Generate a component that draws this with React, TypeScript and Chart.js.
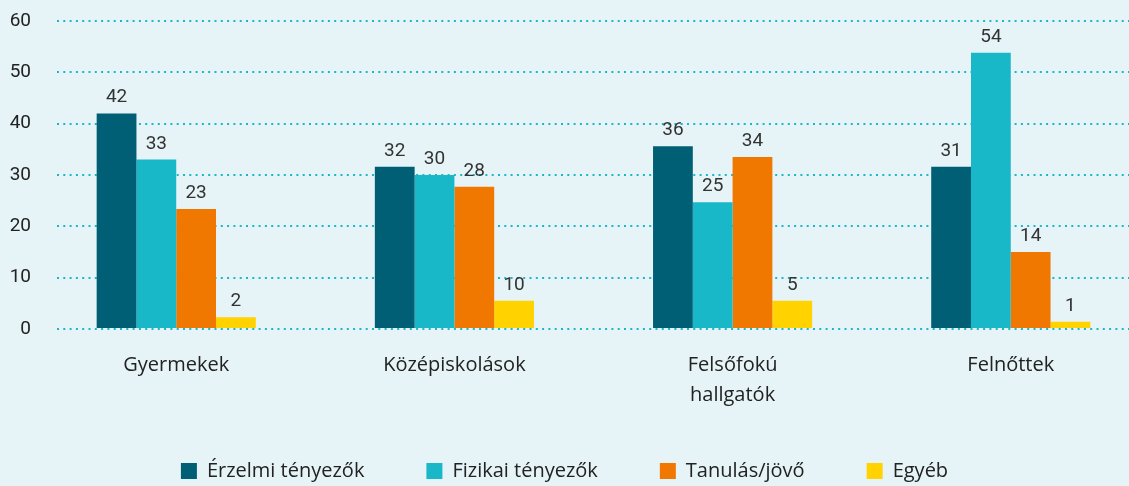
import React, { useEffect, useRef } from "react";
import { Chart, registerables } from "chart.js";

Chart.register(...registerables);

const categories: (string | string[])[] = ["Gyermekek", "Középiskolások", ["Felsőfokú", "hallgatók"], "Felnőttek"];
const seriesNames = ["Érzelmi tényezők", "Fizikai tényezők", "Tanulás/jövő", "Egyéb"];
// bar heights as drawn
const erzelmi = [42, 31.6, 35.6, 31.6];
const fizikai = [33, 30, 24.7, 53.8];
const tanulas = [23.4, 27.7, 33.5, 15];
const egyeb = [2.3, 5.5, 5.5, 1.4];
// value labels as printed
const erzelmiLabels = ["42", "32", "36", "31"];
const fizikaiLabels = ["33", "30", "25", "54"];
const tanulasLabels = ["23", "28", "34", "14"];
const egyebLabels = ["2", "10", "5", "1"];
const yTicks = [0, 10, 20, 30, 40, 50, 60];

const colors = ["#005f75", "#19b8c8", "#f07800", "#ffd200"];
const NUMFONT = "Roboto, 'Noto Sans', sans-serif";
const TEXTFONT = "'Open Sans', Roboto, sans-serif";

const valueLabelPlugin = {
  id: "valueLabels",
  afterLayout(chart: any) {
    // let the two-line category label overflow its box without clipping
    chart.scales.x.bottom += 24;
  },
  afterDatasetsDraw(chart: any) {
    const ctx = chart.ctx;
    ctx.save();
    ctx.fillStyle = "#333333";
    ctx.font = `19px ${NUMFONT}`;
    ctx.textAlign = "center";
    ctx.textBaseline = "alphabetic";
    chart.data.datasets.forEach((ds: any, di: number) => {
      const meta = chart.getDatasetMeta(di);
      meta.data.forEach((bar: any, i: number) => {
        ctx.fillText(ds.valueLabels[i], bar.x, bar.y - 11);
      });
    });
    ctx.restore();
  },
};

export default function App() {
  const ref = useRef<HTMLCanvasElement>(null);
  useEffect(() => {
    const seriesValues = [erzelmi, fizikai, tanulas, egyeb];
    const seriesLabels = [erzelmiLabels, fizikaiLabels, tanulasLabels, egyebLabels];
    const chart = new Chart(ref.current!, {
      type: "bar",
      data: {
        datasets: seriesNames.map((name, si) => ({
          label: name,
          data: seriesValues[si].map((v, i) => ({ x: i, y: v })),
          valueLabels: seriesLabels[si],
          backgroundColor: colors[si],
          borderWidth: 0,
          categoryPercentage: 0.572,
          barPercentage: 1,
        })) as any,
      },
      options: {
        animation: false,
        responsive: false,
        maintainAspectRatio: false,
        layout: { padding: { left: 0, right: 0, top: 0, bottom: 0 } },
        plugins: {
          tooltip: { enabled: false },
          legend: {
            position: "bottom",
            maxHeight: 87,
            labels: {
              boxWidth: 16,
              boxHeight: 16,
              padding: 62,
              color: "#222222",
              font: { family: TEXTFONT, size: 20 },
            },
          },
        },
        scales: {
          x: {
            type: "linear",
            offset: false,
            min: -0.4286,
            max: 3.425,
            grid: { display: false, offset: false },
            border: { display: false },
            afterBuildTicks: (axis: any) => {
              axis.ticks = categories.map((_, i) => ({ value: i }));
            },
            ticks: {
              autoSkip: false,
              maxRotation: 0,
              padding: 13,
              color: "#222222",
              font: { family: TEXTFONT, size: 20, lineHeight: 1.5 },
              callback: (v: any) => categories[v as number],
            },
            afterFit: (axis: any) => {
              axis.height = 70;
            },
          },
          y: {
            min: 0,
            max: 60,
            afterBuildTicks: (axis: any) => {
              axis.ticks = yTicks.map((v) => ({ value: v }));
            },
            border: { display: false, dash: [2, 4.3] },
            grid: {
              color: "#19b8c8",
              lineWidth: 2,
              drawTicks: false,
            },
            ticks: {
              padding: 26,
              color: "#222222",
              font: { family: NUMFONT, size: 19 },
            },
            afterFit: (axis: any) => {
              axis.width = 57;
              axis.paddingTop = 21;
              axis.paddingBottom = 11;
            },
          },
        },
      } as any,
      plugins: [valueLabelPlugin],
    });
    return () => chart.destroy();
  }, []);
  return (
    <div style={{ position: "absolute", left: 0, top: 0, width: 1129, height: 486, background: "#e6f4f8" }}>
      <canvas ref={ref} width={1129} height={486} style={{ display: "block" }} />
    </div>
  );
}
